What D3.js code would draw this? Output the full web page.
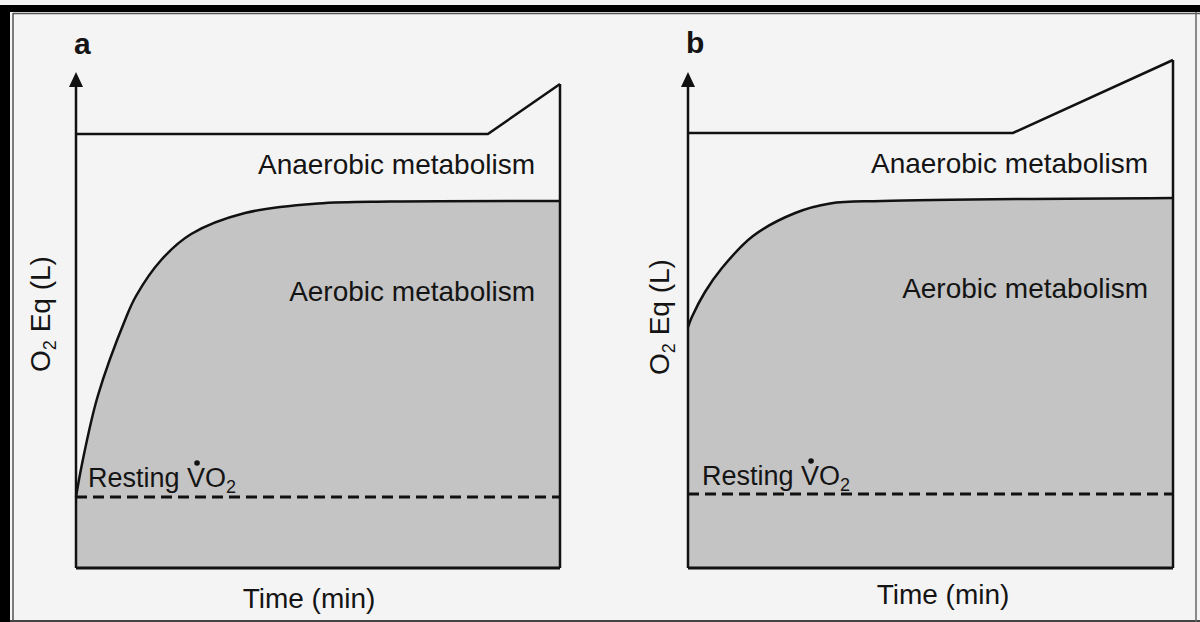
<!DOCTYPE html>
<meta charset="utf-8">
<head>
    <title>O2 equivalents during exercise</title>
    <script type="text/javascript" src="https://d3js.org/d3.v7.min.js"></script>
    <style>
        body { margin: 0; background: #ffffff; }
        text { font-family: "Liberation Sans", Arial, Helvetica, sans-serif; fill: #141414; }
    </style>
</head>
<body>
    <div id="chart"></div>
    <script>
        const width = 1200;
        const height = 622;

        // time (0-100, arbitrary) vs O2 equivalent (0-100, arbitrary)
        const aerobicA = [[0, 14.2], [1.2, 20.6], [4.5, 34.4], [10.3, 50.0], [12.4, 54.4], [17.6, 61.6],
                          [23.8, 66.8], [34.9, 71.0], [50, 72.9], [65, 73.3], [100, 73.4]];
        const anaerobicA = [[0, 86.8], [85.1, 86.8], [100, 96.8]];
        const restingA = 14.2;

        const aerobicB = [[0, 48.2], [0.8, 50.2], [3.5, 55.2], [7, 60.0], [13.4, 66.4], [22.1, 71.0],
                          [29.3, 72.9], [40, 73.4], [100, 74.0]];
        const anaerobicB = [[0, 87.0], [67, 87.0], [100, 101.6]];
        const restingB = 14.8;

        const panelLabels = ["a", "b"];
        const areaLabels = ["Anaerobic metabolism", "Aerobic metabolism"];
        const xTitle = "Time (min)";

        const panels = [
            { label: panelLabels[0], x0: 76, x1: 560, aerobic: aerobicA, anaerobic: anaerobicA, resting: restingA,
              labelY: [174, 301], timeX: 309, timeY: 608, yTitleX: 50, yTitleY: 314, restX: 88, restY: 487 },
            { label: panelLabels[1], x0: 688, x1: 1173, aerobic: aerobicB, anaerobic: anaerobicB, resting: restingB,
              labelY: [173, 298], timeX: 943, timeY: 604, yTitleX: 669, yTitleY: 317, restX: 702, restY: 485 }
        ];

        const svg = d3.select("#chart").append("svg")
            .attr("width", width)
            .attr("height", height);

        // scanned page background + frame
        svg.append("rect").attr("width", width).attr("height", height).attr("fill", "#f4f4f4");
        svg.append("rect").attr("x", 0).attr("y", 5).attr("width", width).attr("height", 7).attr("fill", "#000");
        svg.append("rect").attr("x", 0).attr("y", 5).attr("width", 10).attr("height", height).attr("fill", "#000");
        svg.append("line").attr("x1", 13).attr("x2", width).attr("y1", 13.5).attr("y2", 13.5)
            .attr("stroke", "#555").attr("stroke-width", 1.5);
        svg.append("line").attr("x1", 13).attr("x2", 13).attr("y1", 13).attr("y2", height)
            .attr("stroke", "#555").attr("stroke-width", 1.5);
        svg.append("line").attr("x1", 10).attr("x2", width).attr("y1", 621).attr("y2", 621)
            .attr("stroke", "#444").attr("stroke-width", 2);
        svg.append("line").attr("x1", 1196).attr("x2", 1196).attr("y1", 12).attr("y2", height)
            .attr("stroke", "#666").attr("stroke-width", 1.5);

        const y = d3.scaleLinear().domain([0, 100]).range([568, 68]);

        panels.forEach(function (p) {
            const x = d3.scaleLinear().domain([0, 100]).range([p.x0, p.x1]);
            const g = svg.append("g");

            const area = d3.area()
                .x(d => x(d[0]))
                .y0(y(0))
                .y1(d => y(d[1]))
                .curve(d3.curveCatmullRom.alpha(0.5));
            const line = d3.line()
                .x(d => x(d[0]))
                .y(d => y(d[1]))
                .curve(d3.curveCatmullRom.alpha(0.5));

            g.append("path").datum(p.aerobic).attr("d", area).attr("fill", "#c4c4c4");
            g.append("path").datum(p.aerobic).attr("d", line)
                .attr("fill", "none").attr("stroke", "#111").attr("stroke-width", 2.5);

            // total demand line
            g.append("path").datum(p.anaerobic).attr("d", d3.line().x(d => x(d[0])).y(d => y(d[1])))
                .attr("fill", "none").attr("stroke", "#111").attr("stroke-width", 2.5)
                .attr("stroke-linejoin", "miter");

            const last = p.anaerobic[p.anaerobic.length - 1];
            // right edge and baseline of the box
            g.append("line").attr("x1", x(100)).attr("x2", x(100)).attr("y1", y(last[1])).attr("y2", y(0))
                .attr("stroke", "#111").attr("stroke-width", 2.5);
            g.append("line").attr("x1", x(0)).attr("x2", x(100)).attr("y1", y(0)).attr("y2", y(0))
                .attr("stroke", "#111").attr("stroke-width", 3);

            // resting VO2
            g.append("line").attr("x1", x(0)).attr("x2", x(100)).attr("y1", y(p.resting)).attr("y2", y(p.resting))
                .attr("stroke", "#111").attr("stroke-width", 3).attr("stroke-dasharray", "11,6");

            // y axis with arrow
            g.append("line").attr("x1", x(0)).attr("x2", x(0)).attr("y1", y(0)).attr("y2", y(97))
                .attr("stroke", "#111").attr("stroke-width", 2.5);
            g.append("path")
                .attr("d", "M" + x(0) + "," + (y(100) + 4) + "L" + (x(0) - 7) + "," + (y(100) + 19) +
                    "L" + (x(0) + 7) + "," + (y(100) + 19) + "Z")
                .attr("fill", "#111");

            g.append("text").attr("x", p.x0 - 2).attr("y", p.label == "a" ? 54 : 53)
                .attr("font-size", 30).attr("font-weight", "bold").text(p.label);

            g.append("text").attr("x", p.x1 - 25).attr("y", p.labelY[0]).attr("text-anchor", "end")
                .attr("font-size", 28).text(areaLabels[0]);
            g.append("text").attr("x", p.x1 - 25).attr("y", p.labelY[1]).attr("text-anchor", "end")
                .attr("font-size", 28).text(areaLabels[1]);

            g.append("text").attr("x", p.timeX).attr("y", p.timeY).attr("text-anchor", "middle")
                .attr("font-size", 28).text(xTitle);

            const yt = g.append("text")
                .attr("transform", "translate(" + p.yTitleX + "," + p.yTitleY + ") rotate(-90)")
                .attr("text-anchor", "middle").attr("font-size", 28);
            yt.append("tspan").text("O");
            yt.append("tspan").attr("font-size", 18).attr("dy", 6).text("2");
            yt.append("tspan").attr("dy", -6).text(" Eq (L)");

            const rt = g.append("text").attr("x", p.restX).attr("y", p.restY).attr("font-size", 27);
            rt.append("tspan").text("Resting V");
            rt.append("tspan").text("O");
            rt.append("tspan").attr("font-size", 18).attr("dy", 6).text("2");
            const vBox = rt.node().getExtentOfChar(8);
            g.append("circle").attr("cx", vBox.x + vBox.width / 2 + 1).attr("cy", p.restY - 24)
                .attr("r", 2.8).attr("fill", "#111");
        });
    </script>
</body>
</html>
